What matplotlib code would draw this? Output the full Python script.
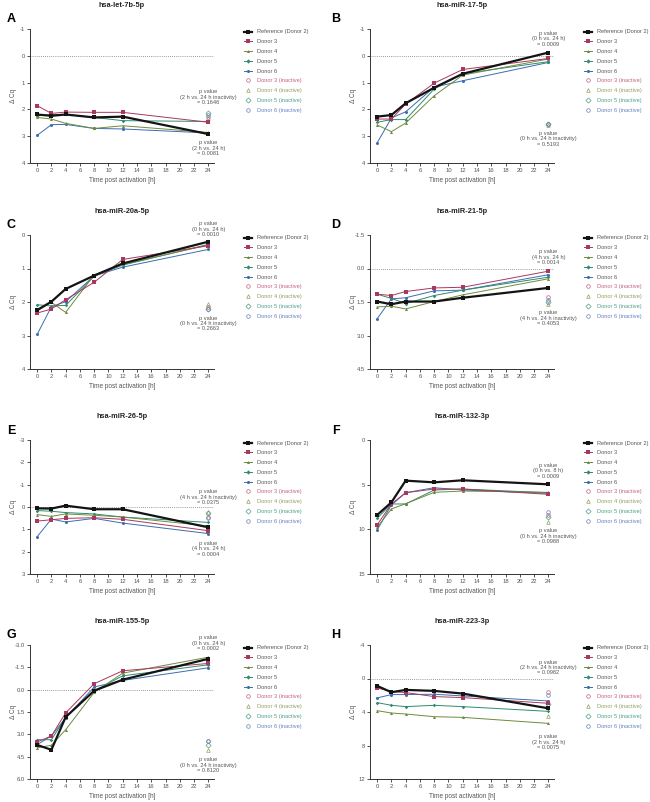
import matplotlib
matplotlib.use("Agg")
from matplotlib import pyplot as plt
from matplotlib.lines import Line2D

plt.rcParams['font.family'] = ['Liberation Sans', 'DejaVu Sans']

# ==============================================
# Data (delta Cq)
# ==============================================
hours = [0, 2, 4, 8, 12, 24]
donor_labels = ["Reference (Donor 2)", "Donor 3", "Donor 4", "Donor 5", "Donor 6"]
inactive_labels = ["Donor 3 (inactive)", "Donor 4 (inactive)",
                   "Donor 5 (inactive)", "Donor 6 (inactive)"]

# A  hsa-let-7b-5p
let7b_ref = [2.19, 2.24, 2.19, 2.30, 2.27, 2.92]
let7b_d3 = [1.86, 2.15, 2.10, 2.11, 2.11, 2.48]
let7b_d4 = [2.30, 2.36, 2.52, 2.71, 2.61, 2.86]
let7b_d5 = [2.24, 2.19, 2.19, 2.30, 2.42, 2.45]
let7b_d6 = [2.97, 2.57, 2.56, 2.71, 2.73, 2.88]
let7b_inactive = [2.28, 2.32, 2.12, 2.20]

# B  hsa-miR-17-5p
mir17_ref = [2.27, 2.21, 1.77, 1.19, 0.67, -0.12]
mir17_d3 = [2.36, 2.36, 1.80, 1.02, 0.51, 0.10]
mir17_d4 = [2.58, 2.83, 2.51, 1.49, 0.72, 0.12]
mir17_d5 = [2.48, 2.38, 2.38, 1.24, 0.67, 0.22]
mir17_d6 = [3.25, 2.32, 2.09, 1.17, 0.93, 0.25]
mir17_inactive = [2.53, 2.58, 2.56, 2.56]

# C  hsa-miR-20a-5p
mir20a_ref = [2.24, 1.99, 1.61, 1.21, 0.85, 0.20]
mir20a_d3 = [2.33, 2.21, 1.93, 1.41, 0.73, 0.32]
mir20a_d4 = [2.27, 2.01, 2.31, 1.19, 0.88, 0.30]
mir20a_d5 = [2.08, 2.12, 2.10, 1.23, 0.90, 0.28]
mir20a_d6 = [2.97, 2.14, 1.99, 1.22, 0.96, 0.43]
mir20a_inactive = [2.15, 2.07, 2.20, 2.22]

# D  hsa-miR-21-5p
mir21_ref = [1.48, 1.60, 1.48, 1.48, 1.31, 0.87]
mir21_d3 = [1.15, 1.21, 1.03, 0.87, 0.84, 0.12]
mir21_d4 = [1.72, 1.69, 1.81, 1.48, 1.18, 0.46]
mir21_d5 = [1.15, 1.34, 1.57, 1.21, 0.97, 0.39]
mir21_d6 = [2.25, 1.36, 1.31, 1.00, 0.97, 0.28]
mir21_inactive = [1.28, 1.58, 1.51, 1.39]

# E  hsa-miR-26-5p
mir26_ref = [0.06, 0.07, -0.06, 0.10, 0.10, 0.91]
mir26_d3 = [0.63, 0.57, 0.51, 0.48, 0.55, 1.06]
mir26_d4 = [0.34, 0.42, 0.31, 0.37, 0.45, 0.85]
mir26_d5 = [0.16, 0.19, 0.25, 0.31, 0.45, 0.69]
mir26_d6 = [1.33, 0.54, 0.67, 0.51, 0.72, 1.19]
mir26_inactive = [0.43, 0.21, 0.25, 0.48]

# F  hsa-miR-132-3p
mir132_ref = [8.40, 6.98, 4.55, 4.74, 4.51, 4.96]
mir132_d3 = [9.51, 7.16, 5.90, 5.49, 5.49, 6.08]
mir132_d4 = [9.78, 7.72, 7.13, 5.86, 5.71, 5.86]
mir132_d5 = [8.77, 7.16, 7.16, 5.60, 5.49, 5.90]
mir132_d6 = [10.07, 7.28, 5.90, 5.34, 5.60, 5.97]
mir132_inactive = [8.40, 9.14, 8.58, 8.02]

# G  hsa-miR-155-5p
mir155_ref = [3.71, 4.04, 1.84, 0.07, -0.67, -2.07]
mir155_d3 = [3.51, 3.11, 1.56, -0.40, -1.27, -1.76]
mir155_d4 = [3.91, 3.73, 2.69, 0.18, -1.11, -2.18]
mir155_d5 = [3.36, 3.36, 1.87, 0.07, -0.93, -1.67]
mir155_d6 = [3.69, 3.11, 1.89, -0.18, -0.62, -1.47]
mir155_inactive = [3.44, 4.07, 3.71, 3.44]

# H  hsa-miR-223-3p
mir223_ref = [0.88, 1.64, 1.36, 1.48, 1.80, 3.56]
mir223_d3 = [1.12, 1.56, 1.68, 2.16, 2.28, 2.96]
mir223_d4 = [3.84, 4.12, 4.24, 4.56, 4.64, 5.36]
mir223_d5 = [2.88, 3.20, 3.36, 3.20, 3.36, 3.92]
mir223_d6 = [2.32, 1.92, 1.92, 1.88, 2.08, 2.68]
mir223_inactive = [1.60, 4.48, 3.00, 2.00]

# ==============================================
# Panel settings
# ==============================================
panels = [
    dict(letter="A", title="hsa-let-7b-5p",
         series=[let7b_ref, let7b_d3, let7b_d4, let7b_d5, let7b_d6], inactive=let7b_inactive,
         yticks=[-1, 0, 1, 2, 3, 4], fmt="{:g}",
         notes=[(1.55, "p value\n(2 h vs. 24 h inactivity)\n= 0.1646"),
                (3.45, "p value\n(2 h vs. 24 h)\n= 0.0081")]),
    dict(letter="B", title="hsa-miR-17-5p",
         series=[mir17_ref, mir17_d3, mir17_d4, mir17_d5, mir17_d6], inactive=mir17_inactive,
         yticks=[-1, 0, 1, 2, 3, 4], fmt="{:g}",
         notes=[(-0.63, "p value\n(0 h vs. 24 h)\n= 0.0009"),
                (3.10, "p value\n(0 h vs. 24 h inactivity)\n= 0.5193")]),
    dict(letter="C", title="hsa-miR-20a-5p",
         series=[mir20a_ref, mir20a_d3, mir20a_d4, mir20a_d5, mir20a_d6], inactive=mir20a_inactive,
         yticks=[0, 1, 2, 3, 4], fmt="{:g}",
         notes=[(-0.17, "p value\n(0 h vs. 24 h)\n= 0.0010"),
                (2.64, "p value\n(0 h vs. 24 h inactivity)\n= 0.2663")]),
    dict(letter="D", title="hsa-miR-21-5p",
         series=[mir21_ref, mir21_d3, mir21_d4, mir21_d5, mir21_d6], inactive=mir21_inactive,
         yticks=[-1.5, 0.0, 1.5, 3.0, 4.5], fmt="{:.1f}",
         notes=[(-0.51, "p value\n(4 h vs. 24 h)\n= 0.0014"),
                (2.22, "p value\n(4 h vs. 24 h inactivity)\n= 0.4053")]),
    dict(letter="E", title="hsa-miR-26-5p",
         series=[mir26_ref, mir26_d3, mir26_d4, mir26_d5, mir26_d6], inactive=mir26_inactive,
         yticks=[-3, -2, -1, 0, 1, 2, 3], fmt="{:g}",
         notes=[(-0.43, "p value\n(4 h vs. 24 h inactivity)\n= 0.0375"),
                (1.87, "p value\n(4 h vs. 24 h)\n= 0.0004")]),
    dict(letter="F", title="hsa-miR-132-3p",
         series=[mir132_ref, mir132_d3, mir132_d4, mir132_d5, mir132_d6], inactive=mir132_inactive,
         yticks=[0, 5, 10, 15], fmt="{:g}",
         notes=[(3.43, "p value\n(0 h vs. 8 h)\n= 0.0009"),
                (10.75, "p value\n(0 h vs. 24 h inactivity)\n= 0.0988")]),
    dict(letter="G", title="hsa-miR-155-5p",
         series=[mir155_ref, mir155_d3, mir155_d4, mir155_d5, mir155_d6], inactive=mir155_inactive,
         yticks=[-3.0, -1.5, 0.0, 1.5, 3.0, 4.5, 6.0], fmt="{:.1f}",
         notes=[(-3.11, "p value\n(0 h vs. 24 h)\n= 0.0002"),
                (5.07, "p value\n(0 h vs. 24 h inactivity)\n= 0.8120")]),
    dict(letter="H", title="hsa-miR-223-3p",
         series=[mir223_ref, mir223_d3, mir223_d4, mir223_d5, mir223_d6], inactive=mir223_inactive,
         yticks=[-4, 0, 4, 8, 12], fmt="{:g}",
         notes=[(-1.32, "p value\n(2 h vs. 24 h inactivity)\n= 0.0982"),
                (7.60, "p value\n(2 h vs. 24 h)\n= 0.0075")]),
]

colors = ["#141414", "#a8385f", "#6e8b3d", "#2e8b6f", "#3c6db0"]
markers = ["s", "s", "^", "D", "o"]
inactive_colors = ["#c4607f", "#8fa060", "#4aa088", "#6480c0"]
inactive_markers = ["o", "^", "D", "o"]
text_gray = "#555555"

W, H = 650, 802
fig = plt.figure(figsize=(W / 100, H / 100), dpi=100)

col_left = [30, 370]
row_top = [29, 235, 440, 645]
ax_w, ax_h = 184, 134

for k, p in enumerate(panels):
    col, row = k % 2, k // 2
    x0, y0 = col_left[col], row_top[row]
    ax = fig.add_axes([x0 / W, 1 - (y0 + ax_h) / H, ax_w / W, ax_h / H])

    for s, vals in enumerate(p["series"]):
        ax.plot(hours, vals, color=colors[s], marker=markers[s],
                lw=1.6 if s == 0 else 0.7,
                ms=2.2 if s != 3 else 1.8, mew=0, zorder=5 - s * 0.1 if s else 6)
    for s, v in enumerate(p["inactive"]):
        ax.plot([24], [v], ls="none", marker=inactive_markers[s], ms=2.6,
                mfc="none", mec=inactive_colors[s], mew=0.5, zorder=4)

    yt = p["yticks"]
    ax.set_ylim(yt[-1], yt[0])
    ax.set_yticks(yt)
    ax.set_yticklabels([p["fmt"].format(t) for t in yt])
    ax.set_xlim(-1, 24.8)
    ax.set_xticks(range(0, 25, 2))
    if yt[0] < 0:
        ax.axhline(0, ls=(0, (1, 1.5)), color="#777777", lw=0.6, zorder=1)

    for sp in ["top", "right"]:
        ax.spines[sp].set_visible(False)
    for sp in ["left", "bottom"]:
        ax.spines[sp].set_color("#333333")
        ax.spines[sp].set_linewidth(0.7)
    ax.tick_params(length=2, width=0.6, labelsize=4.2, pad=1.5,
                   colors="#333333", labelcolor=text_gray)

    ax.set_xlabel("Time post activation [h]", fontsize=4.7, color=text_gray)
    ax.xaxis.set_label_coords(0.5, -0.105)
    ax.set_ylabel("\u0394 Cq", fontsize=4.7, color=text_gray)
    ax.yaxis.set_label_coords(-0.07, 0.5)

    for y, txt in p["notes"]:
        ax.text(24, y, txt, ha="center", va="center", fontsize=4.05,
                color=text_gray, linespacing=1.1, clip_on=False)

    ax.text(0.5, 1 + 23.5 / ax_h, p["title"], transform=ax.transAxes,
            ha="center", va="center", fontsize=5.3, fontweight="bold", color="#222222")
    fig.text((11 if col == 0 else 336) / W, 1 - (y0 - 9.5) / H, p["letter"],
             ha="center", va="center", fontsize=9, fontweight="bold")

    handles = [Line2D([], [], color=colors[s], marker=markers[s],
                      lw=1.6 if s == 0 else 0.7, ms=2.2, mew=0) for s in range(5)]
    handles += [Line2D([], [], ls="none", marker=inactive_markers[s], ms=2.6,
                       mfc="none", mec=inactive_colors[s], mew=0.5) for s in range(4)]
    ax.legend(handles, donor_labels + inactive_labels, loc="upper left",
              bbox_to_anchor=(214 / ax_w, 1 - 0.5 / ax_h),
              frameon=False, fontsize=4.1, borderpad=0, borderaxespad=0,
              handlelength=1.45, handletextpad=0.85, labelspacing=0.84,
              labelcolor=[text_gray] * 5 + inactive_colors)

fig.savefig("out.png", dpi=100)
